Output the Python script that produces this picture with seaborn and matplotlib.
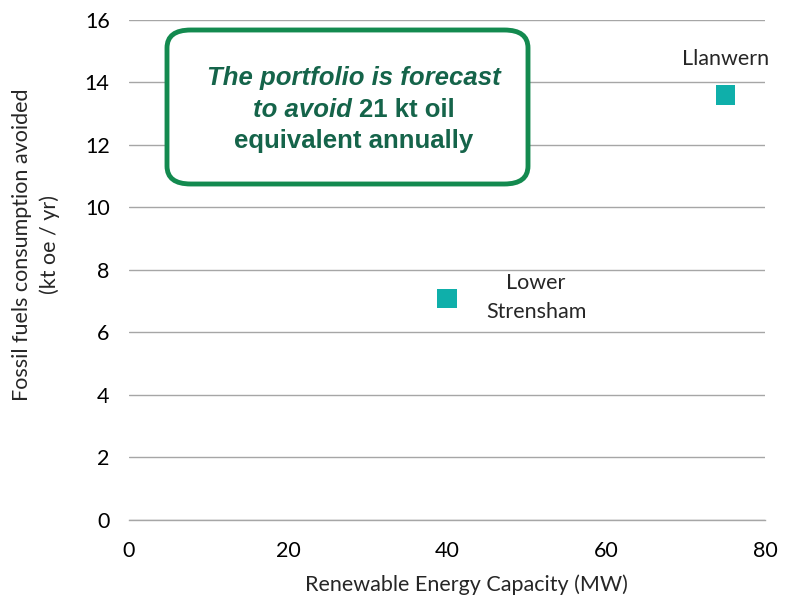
import matplotlib
matplotlib.use("Agg")
import matplotlib.pyplot as plt
import seaborn as sns
import pandas as pd
from matplotlib.patches import FancyBboxPatch

# chart data
sites = ["Lower\nStrensham", "Llanwern"]
capacity_mw = [40, 75]
fossil_avoided = [7.1, 13.6]
x_ticks = [0, 20, 40, 60, 80]
y_ticks = [0, 2, 4, 6, 8, 10, 12, 14, 16]

df = pd.DataFrame({"site": sites, "capacity": capacity_mw, "avoided": fossil_avoided})

sns.set_style("white")
plt.rcParams["font.family"] = ["Lato", "DejaVu Sans"]

fig = plt.figure(figsize=(7.91, 5.97), dpi=100)
ax = fig.add_axes([0.1631, 0.129, 0.804, 0.8375])

sns.scatterplot(data=df, x="capacity", y="avoided", marker="s", s=190,
                color="#0FAFAA", edgecolor="none", ax=ax, zorder=3)

fs = 15.5
ax.set_xlim(0, 80)
ax.set_ylim(0, 16)
ax.set_xticks(x_ticks)
ax.set_yticks(y_ticks)
ax.tick_params(axis="both", labelsize=fs, colors="black")
ax.tick_params(axis="x", direction="out", length=6, width=1, color="#A6A6A6", pad=9)
ax.tick_params(axis="y", length=0, pad=14)
ax.yaxis.grid(True, color="#A6A6A6", linewidth=1)
ax.set_axisbelow(True)
for side in ["left", "right", "top"]:
    ax.spines[side].set_visible(False)
ax.spines["bottom"].set_color("#A6A6A6")
ax.spines["bottom"].set_linewidth(1)

ax.set_xlabel("Renewable Energy Capacity (MW)", fontsize=fs)
ax.xaxis.set_label_coords(0.53, -0.108)
ax.set_ylabel("Fossil fuels consumption avoided\n(kt oe / yr)", fontsize=fs,
              linespacing=1.45)
ax.yaxis.set_label_coords(-0.108, 0.55)

# point labels
ax.annotate(sites[0], (capacity_mw[0], fossil_avoided[0]), xytext=(89, 1),
            textcoords="offset pixels", ha="center", va="center", fontsize=fs,
            linespacing=1.55)
ax.annotate(sites[1], (capacity_mw[1], fossil_avoided[1]), xytext=(0, 36),
            textcoords="offset pixels", ha="center", va="center", fontsize=fs)

# callout box
box = FancyBboxPatch((167 / 791, 1 - 184 / 597), (528 - 167) / 791, (184 - 30) / 597,
                     boxstyle="round,pad=0,rounding_size=0.03",
                     transform=fig.transFigure, facecolor="white",
                     edgecolor="#138A4F", linewidth=3.5, zorder=5)
fig.patches.append(box)
green = "#15644A"
bfs = 18.5
tx = 354 / 791
fig.text(tx, 1 - 78 / 597, "The portfolio is forecast", ha="center", va="center",
         fontsize=bfs, fontweight="bold", style="italic", color=green,
         family="Liberation Sans", zorder=6)
line2_a = fig.text(0, 0, "to avoid ", fontsize=bfs, fontweight="bold", style="italic",
                   color=green, family="Liberation Sans", zorder=6)
line2_b = fig.text(0, 0, "21 kt oil", fontsize=bfs, fontweight="bold",
                   color=green, family="Liberation Sans", zorder=6)
fig.canvas.draw()
r = fig.canvas.get_renderer()
wa = line2_a.get_window_extent(r).width
wb = line2_b.get_window_extent(r).width
start = 354 - (wa + wb) / 2
line2_a.set_position((start / 791, 1 - 110 / 597))
line2_a.set_va("center")
line2_b.set_position(((start + wa) / 791, 1 - 110 / 597))
line2_b.set_va("center")
fig.text(tx, 1 - 141 / 597, "equivalent annually", ha="center", va="center",
         fontsize=bfs, fontweight="bold", color=green, family="Liberation Sans",
         zorder=6)

fig.savefig("out.png", dpi=100)
